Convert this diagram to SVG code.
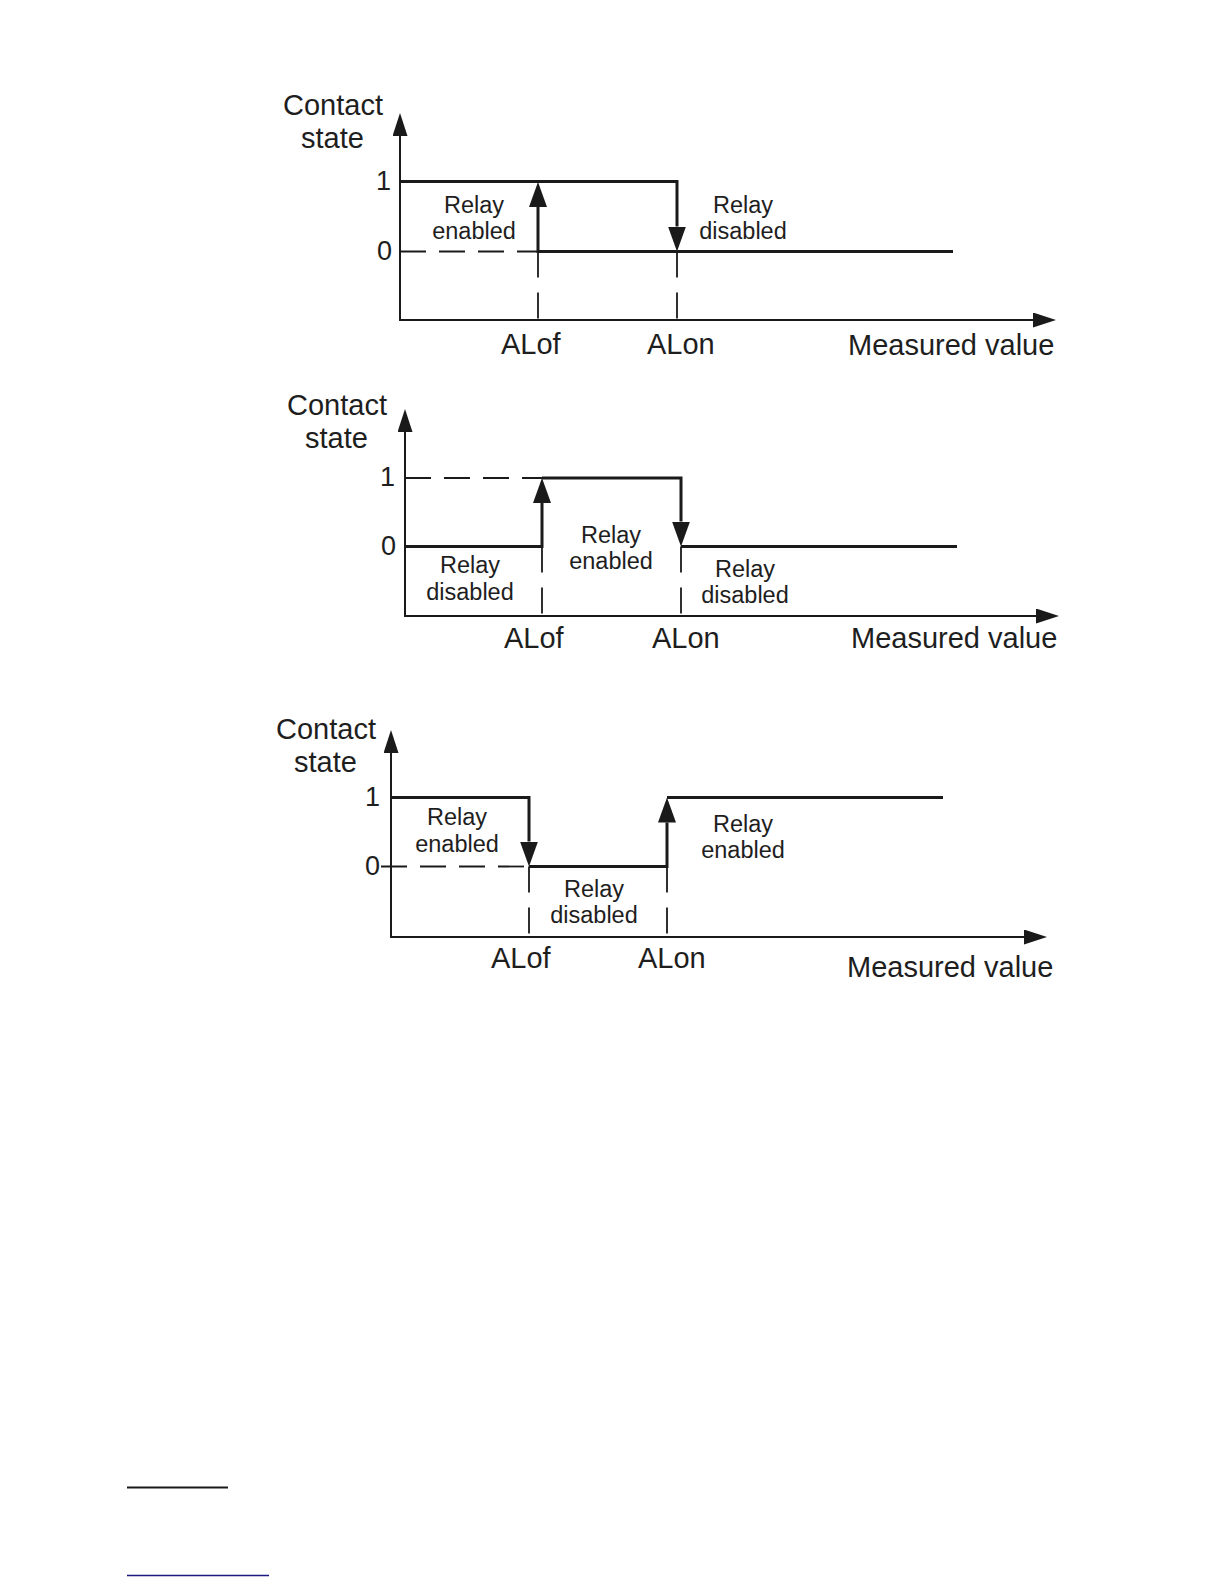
<svg xmlns="http://www.w3.org/2000/svg" width="1224" height="1584" viewBox="0 0 1224 1584">
<style>
.bg{fill:#ffffff}
.axis{stroke:#1a1a1a;stroke-width:2;fill:none}
.sig{stroke:#1a1a1a;stroke-width:3;fill:none;stroke-linejoin:miter}
.dh{stroke:#1a1a1a;stroke-width:1.8;fill:none;stroke-dasharray:26 13}
.dv{stroke:#1a1a1a;stroke-width:1.8;fill:none;stroke-dasharray:26 15}
.big{font-family:"Liberation Sans",Arial,sans-serif;font-size:29px;fill:#1e1e1e}
.num{font-family:"Liberation Sans",Arial,sans-serif;font-size:27px;fill:#1e1e1e;text-anchor:end}
.lbl{font-family:"Liberation Sans",Arial,sans-serif;font-size:23.5px;fill:#1e1e1e;text-anchor:middle}
</style>
<defs>
<marker id="ax" viewBox="0 0 23 15" refX="0" refY="7.5" markerWidth="23" markerHeight="15" markerUnits="userSpaceOnUse" orient="auto">
<path d="M0,0 L23,7.5 L0,15 z" fill="#1a1a1a"/>
</marker>
<marker id="ar" viewBox="0 0 25 18" refX="0" refY="9" markerWidth="25" markerHeight="18" markerUnits="userSpaceOnUse" orient="auto">
<path d="M0,0 L25,9 L0,18 z" fill="#1a1a1a"/>
</marker>
</defs>
<rect class="bg" x="0" y="0" width="1224" height="1584"/>

<g id="panel1">
<g id="p1-connectors">
<line class="axis" x1="400" y1="320" x2="400" y2="136" marker-end="url(#ax)"/>
<line class="axis" x1="399" y1="320" x2="1033" y2="320" marker-end="url(#ax)"/>
<path class="sig" d="M400,181.5 H677 V226.5" marker-end="url(#ar)"/>
<path class="sig" d="M953,251.5 H538 V207" marker-end="url(#ar)"/>
<line class="dh" x1="400" y1="251.5" x2="538" y2="251.5"/>
<line class="dv" x1="538" y1="251.5" x2="538" y2="320"/>
<line class="dv" x1="677" y1="251.5" x2="677" y2="320"/>
</g>
<g id="p1-labels">
<text class="big" x="283" y="115">Contact</text>
<text class="big" x="301" y="148">state</text>
<text class="num" x="391" y="190">1</text>
<text class="num" x="392" y="260">0</text>
<text class="lbl" x="474" y="213">Relay</text>
<text class="lbl" x="474" y="239">enabled</text>
<text class="lbl" x="743" y="213">Relay</text>
<text class="lbl" x="743" y="239">disabled</text>
<text class="big" x="501" y="354">ALof</text>
<text class="big" x="647" y="354">ALon</text>
<text class="big" x="848" y="355">Measured value</text>
</g>
</g>

<g id="panel2">
<g id="p2-connectors">
<line class="axis" x1="405" y1="616" x2="405" y2="432" marker-end="url(#ax)"/>
<line class="axis" x1="404" y1="616" x2="1036" y2="616" marker-end="url(#ax)"/>
<line class="dh" x1="405" y1="478" x2="542" y2="478"/>
<path class="sig" d="M405,546.5 H542 V503" marker-end="url(#ar)"/>
<path class="sig" d="M542,478 H681 V521.5" marker-end="url(#ar)"/>
<line class="sig" x1="681" y1="546.5" x2="957" y2="546.5"/>
<line class="dv" x1="542" y1="546.5" x2="542" y2="616"/>
<line class="dv" x1="681" y1="546.5" x2="681" y2="616"/>
</g>
<g id="p2-labels">
<text class="big" x="287" y="415">Contact</text>
<text class="big" x="305" y="448">state</text>
<text class="num" x="395" y="486">1</text>
<text class="num" x="396" y="555">0</text>
<text class="lbl" x="470" y="573">Relay</text>
<text class="lbl" x="470" y="600">disabled</text>
<text class="lbl" x="611" y="543">Relay</text>
<text class="lbl" x="611" y="569">enabled</text>
<text class="lbl" x="745" y="577">Relay</text>
<text class="lbl" x="745" y="603">disabled</text>
<text class="big" x="504" y="648">ALof</text>
<text class="big" x="652" y="648">ALon</text>
<text class="big" x="851" y="648">Measured value</text>
</g>
</g>

<g id="panel3">
<g id="p3-connectors">
<line class="axis" x1="391" y1="937" x2="391" y2="753" marker-end="url(#ax)"/>
<line class="axis" x1="390" y1="937" x2="1024" y2="937" marker-end="url(#ax)"/>
<path class="sig" d="M391,797.5 H529 V841.5" marker-end="url(#ar)"/>
<line class="dh" x1="381" y1="866.5" x2="529" y2="866.5"/>
<path class="sig" d="M529,866.5 H667 V822.5" marker-end="url(#ar)"/>
<line class="sig" x1="667" y1="797.5" x2="943" y2="797.5"/>
<line class="dv" x1="529" y1="866.5" x2="529" y2="937"/>
<line class="dv" x1="667" y1="866.5" x2="667" y2="937"/>
</g>
<g id="p3-labels">
<text class="big" x="276" y="739">Contact</text>
<text class="big" x="294" y="772">state</text>
<text class="num" x="380" y="806">1</text>
<text class="num" x="380" y="875">0</text>
<text class="lbl" x="457" y="825">Relay</text>
<text class="lbl" x="457" y="852">enabled</text>
<text class="lbl" x="594" y="897">Relay</text>
<text class="lbl" x="594" y="923">disabled</text>
<text class="lbl" x="743" y="832">Relay</text>
<text class="lbl" x="743" y="858">enabled</text>
<text class="big" x="491" y="968">ALof</text>
<text class="big" x="638" y="968">ALon</text>
<text class="big" x="847" y="977">Measured value</text>
</g>
</g>

<g id="footer-rules">
<line x1="127" y1="1487.5" x2="228" y2="1487.5" stroke="#1a1a1a" stroke-width="2"/>
<line x1="127" y1="1575.5" x2="269" y2="1575.5" stroke="#1a1a80" stroke-width="1.5"/>
</g>
</svg>
